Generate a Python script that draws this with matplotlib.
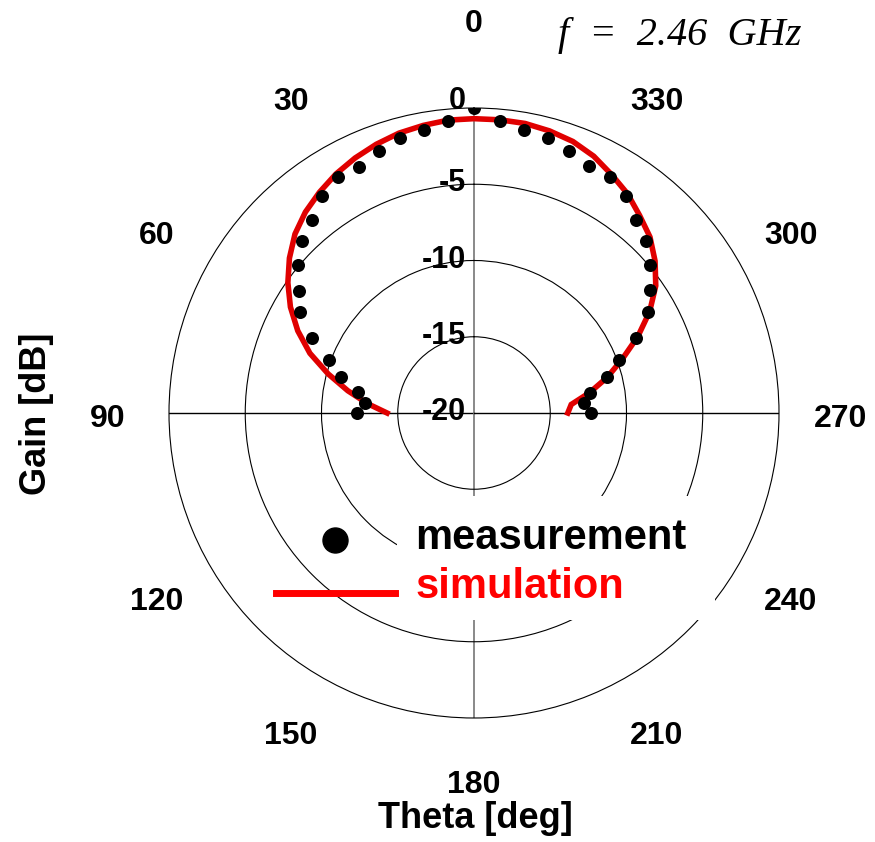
import numpy as np
import matplotlib
matplotlib.use('Agg')
import matplotlib.pyplot as plt
import matplotlib.transforms as mtransforms
from matplotlib.lines import Line2D
from matplotlib.patches import Rectangle
from matplotlib.legend_handler import HandlerLine2D

plt.rcParams['font.family'] = ['Liberation Sans', 'DejaVu Sans']
plt.rcParams['font.weight'] = 'bold'

# ---- data (theta in degrees, gain in dB) ----
meas_theta = [0, 5, 10, 15, 20, 25, 30, 35, 40, 45, 50, 55, 60, 65, 70, 75, 80, 85, 90,
              270, 275, 280, 285, 290, 295, 300, 305, 310, 315, 320, 325, 330, 335, 340,
              345, 350, 355]
meas_gain = [0.0, -0.8, -1.15, -1.35, -1.75, -2.2, -2.1, -2.65, -3.5, -4.05, -4.95, -6.0,
             -6.8, -8.3, -9.9, -11.0, -12.25, -12.8, -12.35,
             -12.35, -12.75, -12.3, -11.0, -9.9, -8.3, -6.8, -5.95, -4.95, -4.05, -3.45,
             -2.65, -2.1, -2.15, -1.75, -1.35, -1.15, -0.8]

sim_theta = [270, 275, 280, 285, 290, 295, 300, 305, 310, 315, 320, 325, 330, 335, 340,
             345, 350, 355, 0, 5, 10, 15, 20, 25, 30, 35, 40, 45, 50, 55, 60, 65, 70, 75,
             80, 85, 90]
sim_gain = [-13.85, -13.6, -12.3, -10.95, -9.65, -8.15, -6.7, -5.45, -4.5, -3.68, -3.1,
            -2.45, -1.95, -1.42, -1.05, -0.85, -0.72, -0.70,
            -0.70, -0.72, -0.85, -1.0, -1.25, -1.55, -1.9, -2.33, -2.8, -3.4, -4.2, -5.1,
            -6.1, -7.25, -8.55, -10.1, -11.6, -13.0, -14.3]

theta_ticks = [0, 30, 60, 90, 120, 150, 180, 210, 240, 270, 300, 330]
theta_labels = ['0', '30', '60', '90', '120', '150', '180', '210', '240', '270', '300', '330']
r_ticks = [0, -5, -10, -15, -20]
r_labels = ['0', '-5', '-10', '-15', '-20']
legend_labels = ['measurement', 'simulation']
title_text = 'f  =  2.46  GHz'
xlabel_text = 'Theta [deg]'
ylabel_text = 'Gain [dB]'

W, H = 875, 842
fig = plt.figure(figsize=(W / 100, H / 100), dpi=100)
ax = fig.add_axes([169 / W, (H - 718) / H, 610 / W, 610 / H], projection='polar')
ax.set_theta_zero_location('N')
ax.set_theta_direction(1)

# simulation line (continuous through 0 deg)
st = np.array(sim_theta, dtype=float)
st = np.where(st > 180, st - 360, st)
ax.plot(np.deg2rad(st), sim_gain, color='#e00000', lw=4.0, zorder=4,
        solid_joinstyle='miter')
ax.scatter(np.deg2rad(meas_theta), meas_gain, s=88, color='black', zorder=5,
           linewidths=0)

ax.set_rlim(-20, 0)
ax.set_rgrids([-15, -10, -5], labels=['', '', ''])
ax.set_thetagrids(theta_ticks, labels=theta_labels)
ax.tick_params(axis='x', pad=37, labelsize=23, length=0)
ax.tick_params(axis='y', length=0)
ax.yaxis.grid(True, color='black', lw=0.8)
ax.xaxis.get_major_ticks()[0].set_pad(58)
label_shift = mtransforms.ScaledTranslation(0, -6 / 100, fig.dpi_scale_trans)
for t, ang in zip(ax.xaxis.get_major_ticks(), theta_ticks):
    t.label1.set_transform(t.label1.get_transform() + label_shift)
    if ang % 180 == 0:
        t.gridline.set_color('#808080')
        t.gridline.set_linewidth(1.3)
        t.gridline.set_linestyle('-')
    elif ang % 90 == 0:
        t.gridline.set_color('black')
        t.gridline.set_linewidth(1.0)
        t.gridline.set_linestyle('-')
    else:
        t.gridline.set_visible(False)
ax.spines['polar'].set_color('black')
ax.spines['polar'].set_linewidth(0.8)

# radial labels along the 0 deg line
for r, lab in zip(r_ticks, r_labels):
    dy = 7 if r == 0 else 1
    off = mtransforms.ScaledTranslation(-8 / 100, dy / 100, fig.dpi_scale_trans)
    ax.text(0, r, lab, transform=ax.transData + off, ha='right', va='center',
            fontsize=22, fontweight='bold', clip_on=False, zorder=6)

# white box behind legend text
rect = Rectangle((397 / W, 1 - 620 / H), (715 - 397) / W, (620 - 496) / H,
                 transform=fig.transFigure, facecolor='white', edgecolor='none',
                 zorder=3, clip_on=False)
ax.add_artist(rect)


def shifted(dy_pt):
    def f(legend_handle, orig_handle):
        legend_handle.update_from(orig_handle)
        legend_handle.set_ydata(np.asarray(legend_handle.get_ydata()) - dy_pt)
    return f


h1 = Line2D([], [], marker='o', ms=18, color='black', ls='none')
h2 = Line2D([], [], color='#ff0000', lw=5)
leg = ax.legend([h1, h2], legend_labels, loc='upper left',
                bbox_to_anchor=(276 / W, 1 - 518 / H), bbox_transform=fig.transFigure,
                frameon=False, prop={'weight': 'bold', 'size': 30},
                handlelength=2.85, handletextpad=0.5, labelspacing=0.22,
                borderpad=0, borderaxespad=0, numpoints=1,
                labelcolor=['black', '#ff0000'],
                handler_map={h1: HandlerLine2D(update_func=shifted(4.0)),
                             h2: HandlerLine2D(update_func=shifted(6.5))})
leg.set_zorder(6)

fig.text(558 / W, 1 - 45 / H, title_text, ha='left', va='baseline',
         fontsize=29, fontstyle='italic', fontweight='normal',
         family=['Liberation Serif', 'DejaVu Serif'])
fig.text(475 / W, 1 - 818 / H, xlabel_text, ha='center', va='center',
         fontsize=26, fontweight='bold')
fig.text(36 / W, 1 - 414 / H, ylabel_text, ha='center', va='center', rotation=90,
         fontsize=26, fontweight='bold')

fig.savefig('out.png', dpi=100)
